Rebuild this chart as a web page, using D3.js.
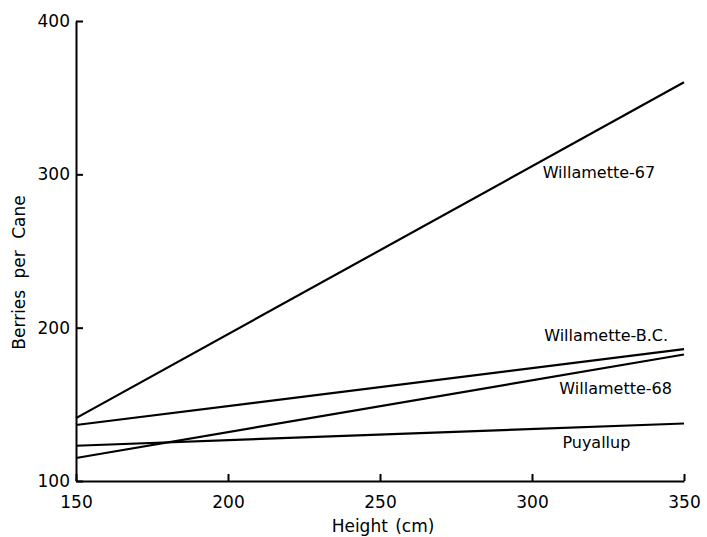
<!DOCTYPE html>
<html>
<head>
<meta charset="utf-8">
<script src="https://cdn.jsdelivr.net/npm/d3@7"></script>
<style>
  body { margin: 0; background: #fff; }
  text { font-family: "DejaVu Sans", sans-serif; fill: #000; }
</style>
</head>
<body>
<div id="chart"></div>
<script>
// data (fitted regression lines, endpoints at 150 and 350 cm)
const heights = [150, 350];
const willamette67 = [141, 360];
const willametteBC = [136.5, 186];
const willamette68 = [115, 182.5];
const puyallup = [123, 137.5];

const seriesNames = ["Willamette-67", "Willamette-B.C.", "Willamette-68", "Puyallup"];
const seriesValues = [willamette67, willametteBC, willamette68, puyallup];
// where each label sits, in data units
const labelX = [303.5, 304, 309, 310];
const labelY = [301, 195, 160.5, 125];

const xTicks = [150, 200, 250, 300, 350];
const yTicks = [100, 200, 300, 400];

const margin = { top: 21, right: 23, bottom: 56, left: 76 },
    width = 707 - margin.left - margin.right,
    height = 537 - margin.top - margin.bottom;

const svg = d3.select("#chart")
    .append("svg")
    .attr("width", 707)
    .attr("height", 537)
    .append("g")
    .attr("transform", `translate(${margin.left},${margin.top})`);

const x = d3.scaleLinear().domain([150, 350]).range([0, width]);
const y = d3.scaleLinear().domain([100, 400]).range([height, 0]);

// X axis, ticks pointing inward
const xAxis = svg.append("g")
    .attr("transform", `translate(0,${height})`)
    .call(d3.axisBottom(x).tickValues(xTicks).tickSizeInner(-7).tickSizeOuter(0).tickPadding(15));
xAxis.select(".domain").attr("stroke-width", 2);
xAxis.selectAll(".tick line").attr("stroke-width", 2);
xAxis.selectAll("text").style("font-size", "17px");

// Y axis
const yAxis = svg.append("g")
    .call(d3.axisLeft(y).tickValues(yTicks).tickSizeInner(-7).tickSizeOuter(0).tickPadding(6));
yAxis.select(".domain").attr("stroke-width", 2);
yAxis.selectAll(".tick line").attr("stroke-width", 2);
yAxis.selectAll("text").style("font-size", "17px");

// lines
const line = d3.line()
    .x((d, i) => x(heights[i]))
    .y(d => y(d));

svg.selectAll("path.series")
    .data(seriesValues)
    .join("path")
    .attr("class", "series")
    .attr("d", line)
    .attr("fill", "none")
    .attr("stroke", "#000")
    .attr("stroke-width", 2.2);

svg.selectAll("text.lbl")
    .data(seriesNames)
    .join("text")
    .attr("class", "lbl")
    .attr("x", (d, i) => x(labelX[i]))
    .attr("y", (d, i) => y(labelY[i]))
    .attr("dy", "0.35em")
    .style("font-size", "16px")
    .text(d => d);

// axis titles
svg.append("text")
    .attr("x", x(251))
    .attr("y", height + 51)
    .attr("text-anchor", "middle")
    .style("font-size", "17px")
    .style("word-spacing", "2px")
    .text("Height (cm)");

svg.append("text")
    .attr("transform", `translate(${-51},${y(236)}) rotate(-90)`)
    .attr("text-anchor", "middle")
    .style("font-size", "17px")
    .style("word-spacing", "6px")
    .text("Berries per Cane");
</script>
</body>
</html>
